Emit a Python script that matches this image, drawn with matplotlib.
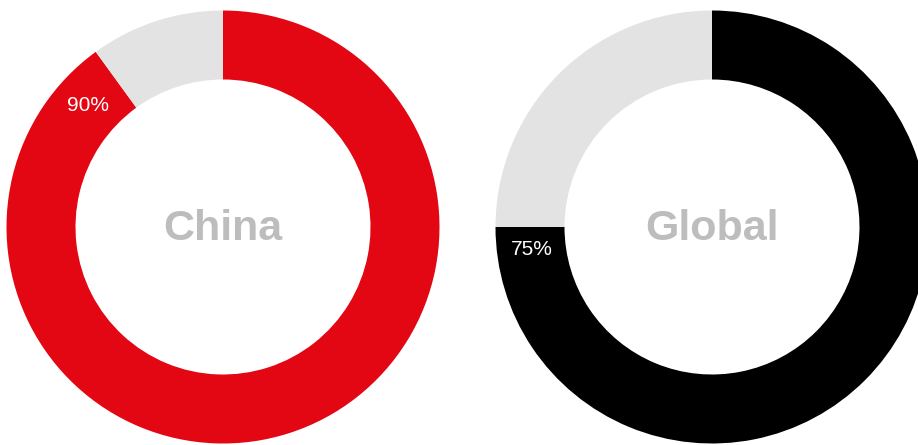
import matplotlib.pyplot as plt
import numpy as np

# shares (percent) for each ring
regions = ["China", "Global"]
shares = [90, 75]
ring_colors = ["#E30613", "#000000"]
rest_color = "#E3E3E3"
# how far past the segment end (clockwise, degrees) the label sits
label_offset = [12, 7]

W, H = 918, 445
centers = [(223, 227), (712, 227)]
r_out, r_in = 216.5, 147.5

plt.rcParams['font.family'] = ['Liberation Sans', 'DejaVu Sans']

fig = plt.figure(figsize=(W / 100, H / 100), dpi=100)
ax = fig.add_axes([0, 0, 1, 1])

for name, v, col, off, (cx, cy) in zip(regions, shares, ring_colors, label_offset, centers):
    c = (cx, H - cy)
    ax.pie([v, 100 - v], colors=[col, rest_color], startangle=90, counterclock=False,
           center=c, radius=r_out, wedgeprops=dict(width=r_out - r_in, linewidth=0))
    ax.text(c[0], c[1] - 13, name, ha="center", va="baseline", fontsize=31,
            fontweight="bold", color="#BDBDBD")
    # label just past the end of the coloured segment
    ang = np.deg2rad(90 + (100 - v) * 3.6 + off)
    rm = (r_out + r_in) / 2
    ax.text(c[0] + rm * np.cos(ang), c[1] + rm * np.sin(ang), f"{v}%",
            ha="center", va="center", fontsize=15, color="white")

ax.set_xlim(0, W)
ax.set_ylim(0, H)
ax.set_aspect("equal")
ax.axis("off")

plt.savefig("out.png", dpi=100)
